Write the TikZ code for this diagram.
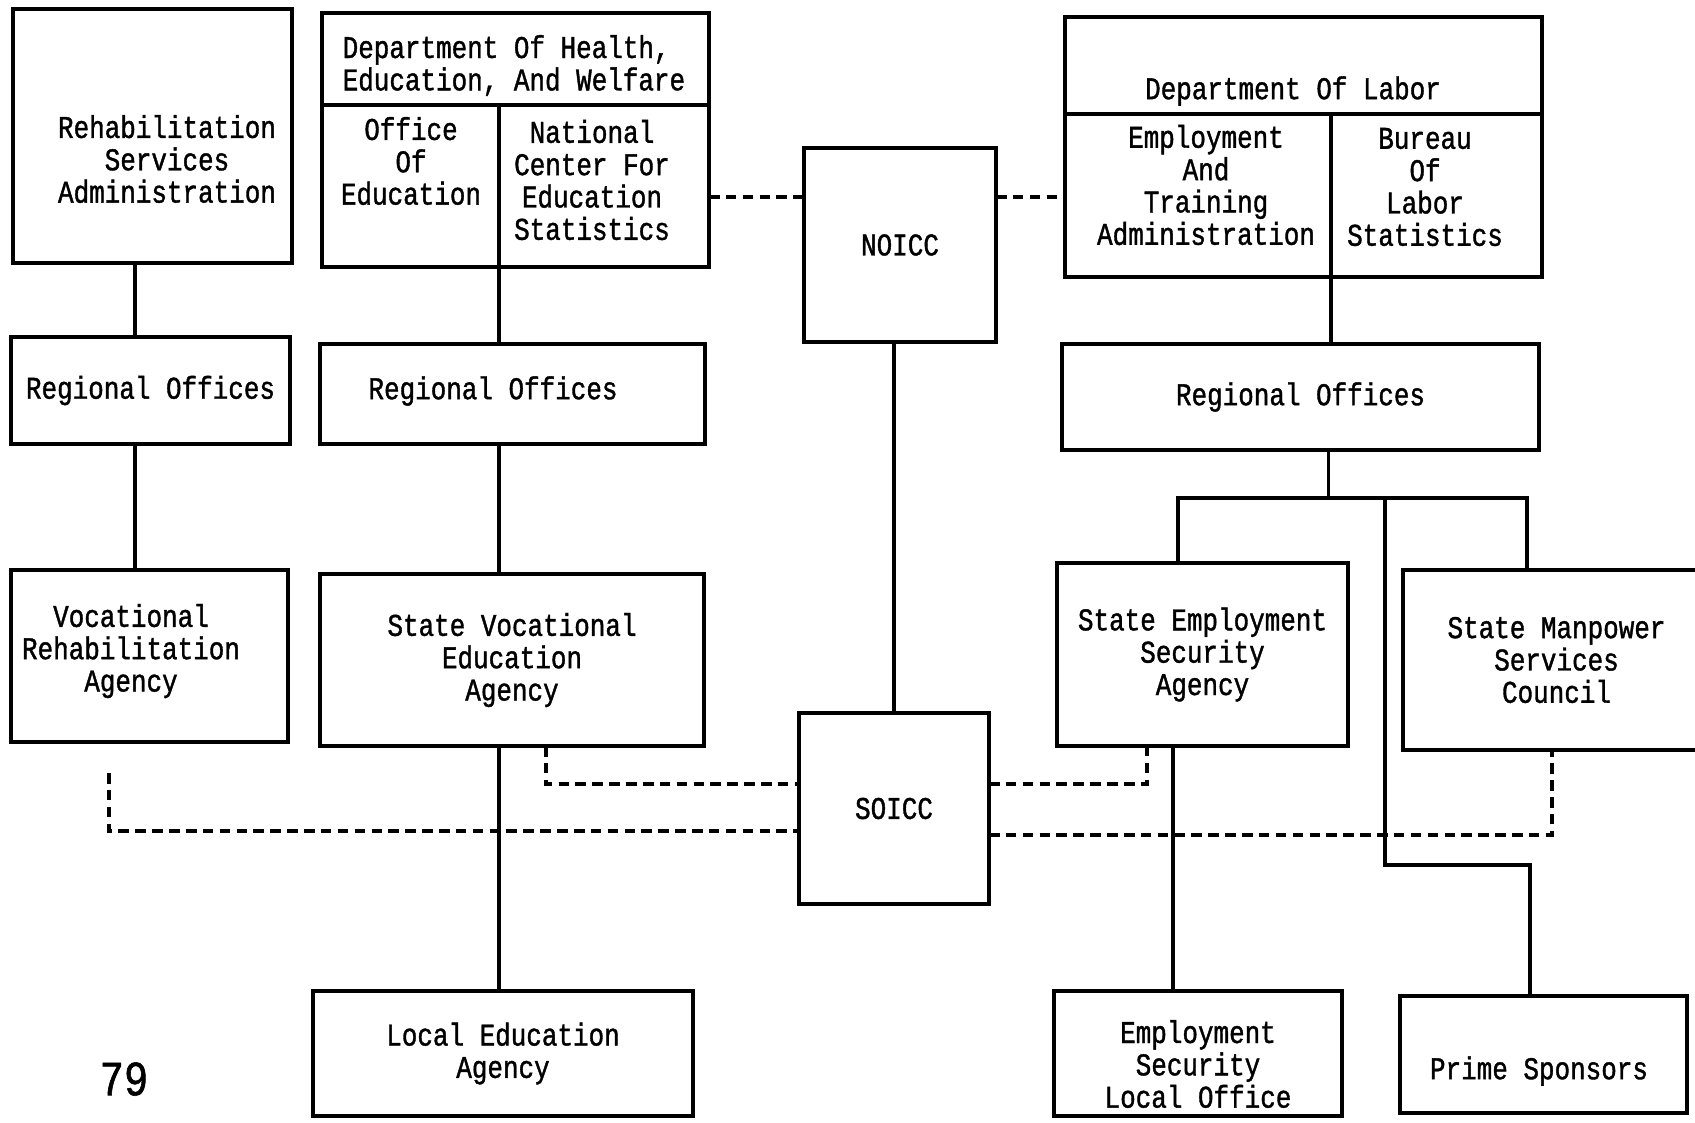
\documentclass[tikz,border=0pt]{standalone}
\usepackage{fontspec}
\newfontfamily\typewriter{Liberation Mono}[FakeStretch=0.82, FakeBold=1.2]
\newcommand{\chartfont}{\typewriter\fontsize{9pt}{9.2pt}\selectfont}

\tikzset{
	box/.style={draw, rectangle, line width=1.1pt, inner sep=0pt, outer sep=0pt, align=center, font=\chartfont},
	txt/.style={inner sep=0pt, align=center, font=\chartfont},
	link/.style={line width=1.1pt},
	dotlink/.style={line width=0.9pt, dash pattern=on 3pt off 1.8pt}
}

\begin{document}
\begin{tikzpicture}
	\useasboundingbox (0,0) rectangle (16.95,-11.22);
	
	\node[box, minimum width=2.79cm, minimum height=2.54cm](rsa) at (1.525,-1.36){};
	\node[txt](rsa_t) at (1.67,-1.59){Rehabilitation\\Services\\Administration};
	
	\node[box, minimum width=3.87cm, minimum height=2.54cm](hew) at (5.155,-1.40){};
	\coordinate (hew_div) at (4.99,-1.05);
	\node[txt, align=left, anchor=west](hew_t) at (3.42,-0.655){Department Of Health,\\Education, And Welfare};
	\node[txt](oe) at (4.11,-1.61){Office\\Of\\Education};
	\node[txt](nces) at (5.92,-1.80){National\\Center For\\Education\\Statistics};
	
	\node[box, minimum width=1.92cm, minimum height=1.94cm](noicc) at (9.00,-2.45){NOICC};
	
	\node[box, minimum width=4.77cm, minimum height=2.60cm](dol) at (13.035,-1.47){};
	\coordinate (dol_div) at (13.31,-1.14);
	\node[txt](dol_t) at (12.93,-0.91){Department Of Labor};
	\node[txt](eta) at (12.06,-1.85){Employment\\And\\Training\\Administration};
	\node[txt](bls) at (14.25,-1.87){Bureau\\Of\\Labor\\Statistics};
	
	\node[box, minimum width=2.79cm, minimum height=1.07cm](reg_rsa) at (1.505,-3.905){Regional Offices};
	\node[box, minimum width=3.85cm, minimum height=1.00cm](reg_hew) at (5.125,-3.94){};
	\node[txt](reg_hew_t) at (4.93,-3.91){Regional Offices};
	\node[box, minimum width=4.77cm, minimum height=1.06cm](reg_dol) at (13.005,-3.97){Regional Offices};
	
	\node[box, minimum width=2.77cm, minimum height=1.72cm](vra) at (1.495,-6.56){};
	\node[txt](vra_t) at (1.31,-6.51){Vocational\\Rehabilitation\\Agency};
	\node[box, minimum width=3.84cm, minimum height=1.72cm](svea) at (5.12,-6.60){State Vocational\\Education\\Agency};
	\node[box, minimum width=1.90cm, minimum height=1.91cm](soicc) at (8.94,-8.085){SOICC};
	\node[box, minimum width=2.91cm, minimum height=1.83cm](sesa) at (12.025,-6.545){State Employment\\Security\\Agency};
	\node[box, minimum width=3.07cm, minimum height=1.80cm](smsc) at (15.565,-6.60){State Manpower\\Services\\Council};
	
	\node[box, minimum width=3.80cm, minimum height=1.25cm](lea) at (5.03,-10.535){Local Education\\Agency};
	\node[box, minimum width=2.88cm, minimum height=1.25cm](eslo) at (11.98,-10.535){};
	\node[txt](eslo_t) at (11.98,-10.64){Employment\\Security\\Local Office};
	\node[box, minimum width=2.87cm, minimum height=1.17cm](prime) at (15.435,-10.545){};
	\node[txt](prime_t) at (15.39,-10.71){Prime Sponsors};
	
	\node[font=\typewriter\fontsize{14pt}{16pt}\selectfont](page) at (1.24,-10.79){79};
	
	\draw[link] (hew.west |- hew_div) -- (hew.east |- hew_div);
	\draw[link] (dol.west |- dol_div) -- (dol.east |- dol_div);
	
	\coordinate (col_rsa) at (1.35,0);
	\draw[link] (rsa.south -| col_rsa) -- (reg_rsa.north -| col_rsa);
	\draw[link] (reg_rsa.south -| col_rsa) -- (vra.north -| col_rsa);
	
	\draw[link] (hew_div) -- (reg_hew.north -| hew_div);
	\draw[link] (reg_hew.south -| hew_div) -- (svea.north -| hew_div);
	\draw[link] (svea.south -| hew_div) -- (lea.north -| hew_div);
	
	\coordinate (noicc_row) at (0,-1.97);
	\draw[dotlink] (hew.east |- noicc_row) -- (noicc.west |- noicc_row);
	\draw[dotlink] (noicc.east |- noicc_row) -- (dol.west |- noicc_row);
	\draw[link] (soicc.north |- noicc.south) -- (soicc.north);
	
	\draw[link] (dol_div) -- (reg_dol.north -| dol_div);
	\coordinate (bar) at (13.285,-4.98);
	\coordinate (bar_l) at (11.78,-4.98);
	\coordinate (bar_r) at (15.27,-4.98);
	\draw[link] (reg_dol.south -| bar) -- (bar);
	\draw[link] (sesa.north -| bar_l) -- (bar_l) -- (bar_r) -- (smsc.north -| bar_r);
	
	\coordinate (ps_top) at (13.85,-4.98);
	\coordinate (ps_bend) at (13.85,-8.65);
	\coordinate (ps_col) at (15.30,0);
	\draw[link] (ps_top) -- (ps_bend) -- (ps_bend -| ps_col) -- (prime.north -| ps_col);
	
	\coordinate (col_es) at (11.73,0);
	\draw[link] (sesa.south -| col_es) -- (eslo.north -| col_es);
	
	\coordinate (svea_drop) at (5.46,-7.84);
	\coordinate (sesa_drop) at (11.47,-7.84);
	\coordinate (vra_end) at (1.09,-7.73);
	\coordinate (vra_drop) at (1.09,-8.31);
	\coordinate (smsc_drop) at (15.52,-8.35);
	\draw[dotlink] (svea.south -| svea_drop) -- (svea_drop) -- (soicc.west |- svea_drop);
	\draw[dotlink] (vra_end) -- (vra_drop) -- (soicc.west |- vra_drop);
	\draw[dotlink] (soicc.east |- sesa_drop) -- (sesa_drop) -- (sesa.south -| sesa_drop);
	\draw[dotlink] (soicc.east |- smsc_drop) -- (smsc_drop) -- (smsc.south -| smsc_drop);
\end{tikzpicture}
\end{document}
